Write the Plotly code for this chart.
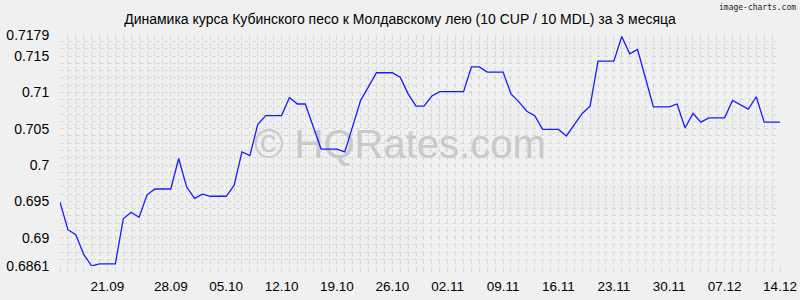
import plotly.graph_objects as go

# Daily rate values (10 CUP / 10 MDL), one per day
rates = [
    0.6949, 0.6911, 0.6904, 0.6877, 0.6861, 0.6864, 0.6864, 0.6864, 0.6926, 0.6935,
    0.6928, 0.6959, 0.6967, 0.6967, 0.6967, 0.7009, 0.6970, 0.6954, 0.6960, 0.6957,
    0.6957, 0.6957, 0.6972, 0.7018, 0.7013, 0.7056, 0.7068, 0.7068, 0.7068, 0.7093,
    0.7084, 0.7084, 0.7053, 0.7022, 0.7022, 0.7022, 0.7018, 0.7054, 0.7089, 0.7108,
    0.7127, 0.7127, 0.7127, 0.7121, 0.7098, 0.7081, 0.7081, 0.7095, 0.7101, 0.7101,
    0.7101, 0.7101, 0.7135, 0.7135, 0.7128, 0.7128, 0.7128, 0.7098, 0.7087, 0.7074,
    0.7068, 0.7049, 0.7049, 0.7049, 0.7040, 0.7055, 0.7071, 0.7081, 0.7143, 0.7143,
    0.7143, 0.7177, 0.7153, 0.7159, 0.7119, 0.7080, 0.7080, 0.7080, 0.7084, 0.7051,
    0.7071, 0.7059, 0.7065, 0.7065, 0.7065, 0.7089, 0.7083, 0.7077, 0.7094, 0.7059,
    0.7059, 0.7059,
]
day_index = list(range(len(rates)))

# X tick labels and the day index they sit on
x_tick_pos = [6, 14, 21, 28, 35, 42, 49, 56, 63, 70, 77, 84, 91]
x_tick_labels = ["21.09", "28.09", "05.10", "12.10", "19.10", "26.10", "02.11",
                 "09.11", "16.11", "23.11", "30.11", "07.12", "14.12"]

# Y ticks
y_min, y_max = 0.6861, 0.7179
y_tick_vals = [0.6861, 0.69, 0.695, 0.7, 0.705, 0.71, 0.715, 0.7179]
y_tick_labels = ["0.6861", "0.69", "0.695", "0.7", "0.705", "0.71", "0.715", "0.7179"]

title_text = "Динамика курса Кубинского песо к Молдавскому лею (10 CUP / 10 MDL) за 3 месяца"
watermark = "© HQRates.com"
credit = "image-charts.com"

BG = "#f0f0f0"
GRID = "#d9d9d9"
DASH_V = "5px,3px"
DASH_H = "4px,4px"
FONT = "Liberation Sans, Arial, sans-serif"

x_lo, x_hi = day_index[0], day_index[-1]

fig = go.Figure()

# watermark drawn first so the line sits on top of it
fig.add_trace(go.Scatter(
    x=[x_lo + 0.472 * (x_hi - x_lo)],
    y=[y_min + 0.51 * (y_max - y_min)],
    mode="text",
    text=[watermark],
    textposition="middle center",
    textfont=dict(family=FONT, size=40, color="#c9c9c9"),
    hoverinfo="skip",
    showlegend=False,
))

fig.add_trace(go.Scatter(
    x=day_index,
    y=rates,
    mode="lines",
    line=dict(color="#1a1aff", width=1.3),
    showlegend=False,
))

fig.update_layout(
    width=800,
    height=300,
    margin=dict(l=60, r=20, t=35, b=34, autoexpand=False),
    paper_bgcolor=BG,
    plot_bgcolor=BG,
    font=dict(family=FONT, color="#000000"),
    title=dict(
        text=title_text,
        x=0.5, xanchor="center",
        xref="container",
        y=1 - 19 / 300, yref="container", yanchor="middle",
        font=dict(family=FONT, size=14, color="#000000"),
    ),
    xaxis=dict(
        range=[x_lo, x_hi],
        automargin=False,
        tickmode="array",
        tickvals=x_tick_pos,
        ticktext=x_tick_labels,
        tickfont=dict(size=13.5, color="#000000"),
        ticks="outside",
        ticklen=8,
        tickcolor="rgba(0,0,0,0)",
        showgrid=True,
        gridcolor=GRID,
        griddash=DASH_V,
        gridwidth=1,
        zeroline=False,
        showline=False,
        minor=dict(
            tickmode="linear", tick0=0, dtick=1,
            showgrid=True, gridcolor=GRID, griddash=DASH_V, gridwidth=1,
            ticks="outside", ticklen=5, tickcolor=GRID,
        ),
    ),
    yaxis=dict(
        range=[y_min, y_max],
        automargin=False,
        tickmode="array",
        tickvals=y_tick_vals,
        ticktext=y_tick_labels,
        tickfont=dict(size=14, color="#000000"),
        ticks="outside",
        ticklen=7,
        tickcolor="rgba(0,0,0,0)",
        showgrid=True,
        gridcolor=GRID,
        griddash=DASH_H,
        gridwidth=1,
        zeroline=False,
        showline=False,
        minor=dict(
            tickmode="linear", tick0=0, dtick=0.001,
            showgrid=True, gridcolor=GRID, griddash=DASH_H, gridwidth=1,
        ),
    ),
    annotations=[dict(
        text=credit,
        xref="paper", yref="paper",
        x=1, y=1 + 28 / 231,
        xanchor="right", yanchor="middle",
        xshift=18,
        showarrow=False,
        font=dict(family="DejaVu Sans Mono, monospace", size=8, color="#222222"),
    )],
)

fig.write_html("out.html")
